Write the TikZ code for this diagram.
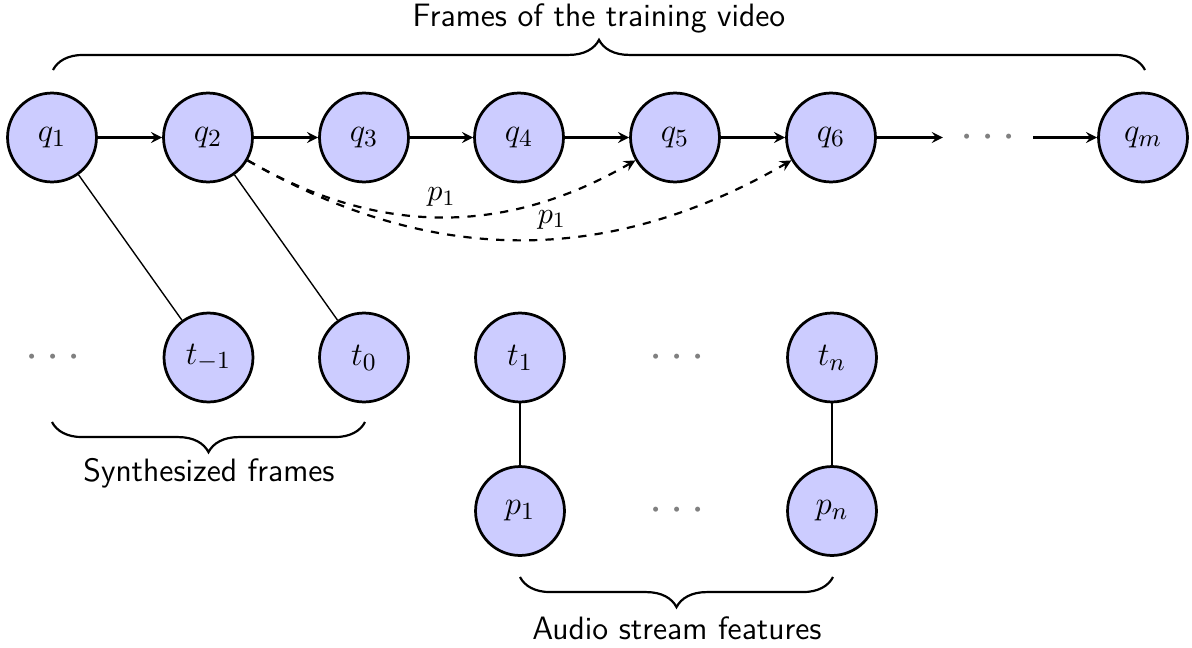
\documentclass[tikz,border=0pt]{standalone}
\usetikzlibrary{arrows,decorations.pathreplacing}
\begin{document}
\begin{tikzpicture}[x=0.01282cm,y=-0.01282cm,
  state/.style={circle,draw,line width=1pt,fill=blue!20,minimum size=1.14cm,
    inner sep=0pt,font=\fontsize{13}{15}\selectfont},
  gap/.style={circle,minimum size=1.14cm,inner sep=0pt,text=gray,
    font=\fontsize{19}{22}\selectfont},
  flow/.style={->,>=stealth,thick},
  link/.style={line width=0.5pt},
  hop/.style={->,>=stealth,thick,dashed},
  hoplabel/.style={font=\fontsize{11}{13}\selectfont,inner sep=0pt},
  brc/.style={decorate,decoration={brace,amplitude=11pt},thick},
  caption/.style={font=\sffamily\fontsize{11.8}{14}\selectfont}]
\useasboundingbox (0,0) rectangle (1192,647);

% frames of the training video
\node[state] (q1) at (52,137.5) {$q_1$};
\node[state] (q2) at (208,137.5) {$q_2$};
\node[state] (q3) at (364,137.5) {$q_3$};
\node[state] (q4) at (519,137.5) {$q_4$};
\node[state] (q5) at (675,137.5) {$q_5$};
\node[state] (q6) at (831,137.5) {$q_6$};
\node[gap]   (qd) at (988,137.5) {$\cdots$};
\node[state] (qm) at (1143,137.5) {$q_m$};

% synthesized frames and audio features
\node[gap]   (td) at (53,357.5) {$\cdots$};
\node[state] (tm1) at (208.5,357.5) {$t_{-1}$};
\node[state] (t0) at (364,357.5) {$t_0$};
\node[state] (t1) at (520,357.5) {$t_1$};
\node[gap]   (tdots) at (677,357.5) {$\cdots$};
\node[state] (tn) at (832,357.5) {$t_n$};
\node[state] (p1) at (520,511) {$p_1$};
\node[gap]   (pdots) at (677,511) {$\cdots$};
\node[state] (pn) at (832,511) {$p_n$};

% sequence arrows
\draw[flow] (q1) -- (q2);
\draw[flow] (q2) -- (q3);
\draw[flow] (q3) -- (q4);
\draw[flow] (q4) -- (q5);
\draw[flow] (q5) -- (q6);
\draw[flow] (q6) -- (qd);
\draw[flow] (qd) -- (qm);

% skip transitions, labelled just above their lowest stretch
\draw[hop] (q2) to[bend right=30] coordinate[pos=0.5] (m1) (q5);
\draw[hop] (q2) to[bend right=30] coordinate[pos=0.56] (m2) (q6);
\node[hoplabel] (l1) at ([yshift=20*0.01282cm]m1) {$p_1$};
\node[hoplabel] (l2) at ([yshift=19*0.01282cm]m2) {$p_1$};

% associations
\draw[link] (q1) -- (tm1);
\draw[link] (q2) -- (t0);
\draw[link] (t1) -- (p1);
\draw[link] (tn) -- (pn);

% braces and captions
\coordinate (bTopL) at (53,70);
\coordinate (bTopR) at (1145,70);
\draw[brc] (bTopL) -- (bTopR);
\node[caption] (capTop) at (599,18) {Frames of the training video};

\coordinate (bSynL) at (52,422);
\coordinate (bSynR) at (365,422);
\draw[brc] (bSynR) -- (bSynL);
\node[caption] (capSyn) at (209,473) {Synthesized frames};

\coordinate (bAudL) at (520,577);
\coordinate (bAudR) at (833,577);
\draw[brc] (bAudR) -- (bAudL);
\node[caption] (capAud) at (677,628) {Audio stream features};
\end{tikzpicture}
\end{document}
